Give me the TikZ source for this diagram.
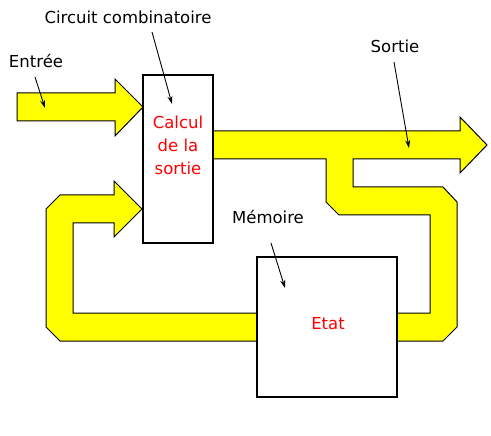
\documentclass[tikz,border=0pt]{standalone}
\usepackage{fontspec}
\setmainfont{DejaVu Sans}
\usetikzlibrary{arrows.meta}
\definecolor{bandyellow}{RGB}{255,255,0}
\definecolor{txtred}{RGB}{255,0,0}
\begin{document}
\begin{tikzpicture}[x=1pt,y=-1pt,
  band/.style={fill=bandyellow, draw=black, line width=1pt, line join=miter},
  box/.style={draw=black, line width=2pt, fill=white, inner sep=0pt, rectangle},
  lbl/.style={font=\fontsize{16.5}{20}\selectfont, inner sep=0pt, anchor=base},
  redtxt/.style={lbl, text=txtred},
  pointer/.style={draw=black, line width=0.9pt, -{Stealth[length=8pt,width=5pt]}}]
\useasboundingbox (0,0) rectangle (491,436);
% input arrow
\draw[band] (17,93) -- (115,93) -- (115,79) -- (143,107) -- (115,136) -- (115,121) -- (17,121) -- cycle;
% output arrow with branch to the state
\draw[band] (213,131) -- (460,131) -- (460,117) -- (487,145) -- (460,173) -- (460,159)
  -- (353,159) -- (353,187) -- (443,187) -- (457,202) -- (457,327) -- (443,341)
  -- (397,341) -- (397,313) -- (430,313) -- (430,215) -- (339,215) -- (326,202)
  -- (326,159) -- (213,159) -- cycle;
% feedback arrow
\draw[band] (257,313) -- (73,313) -- (73,223) -- (114,223) -- (114,237) -- (142,209)
  -- (114,181) -- (114,195) -- (60,195) -- (46,209) -- (46,327) -- (60,341) -- (257,341) -- cycle;
% boxes
\node[box, minimum width=70pt, minimum height=168pt] (calc) at (178,159) {};
\node[box, minimum width=140pt, minimum height=140pt] (etat) at (327,327) {};
% box texts
\node[redtxt] (c1) at (178,129) {Calcul};
\node[redtxt] (c2) at (178,152) {de la};
\node[redtxt] (c3) at (178,175) {sortie};
\node[redtxt] (et) at (328,330) {Etat};
% labels
\node[lbl] (lcirc) at (128,24) {Circuit combinatoire};
\node[lbl] (lin) at (36,68) {Entrée};
\node[lbl] (lout) at (395,53) {Sortie};
\node[lbl] (lmem) at (268,224) {Mémoire};
% pointer ends
\coordinate (pin0) at (35,77);  \coordinate (pin1) at (45,108);
\coordinate (pc0) at (152,32);  \coordinate (pc1) at (172,104);
\coordinate (po0) at (394,62);  \coordinate (po1) at (409,148);
\coordinate (pm0) at (271,243); \coordinate (pm1) at (285,288);
\draw[pointer] (pin0) -- (pin1);
\draw[pointer] (pc0) -- (pc1);
\draw[pointer] (po0) -- (po1);
\draw[pointer] (pm0) -- (pm1);
\end{tikzpicture}
\end{document}
